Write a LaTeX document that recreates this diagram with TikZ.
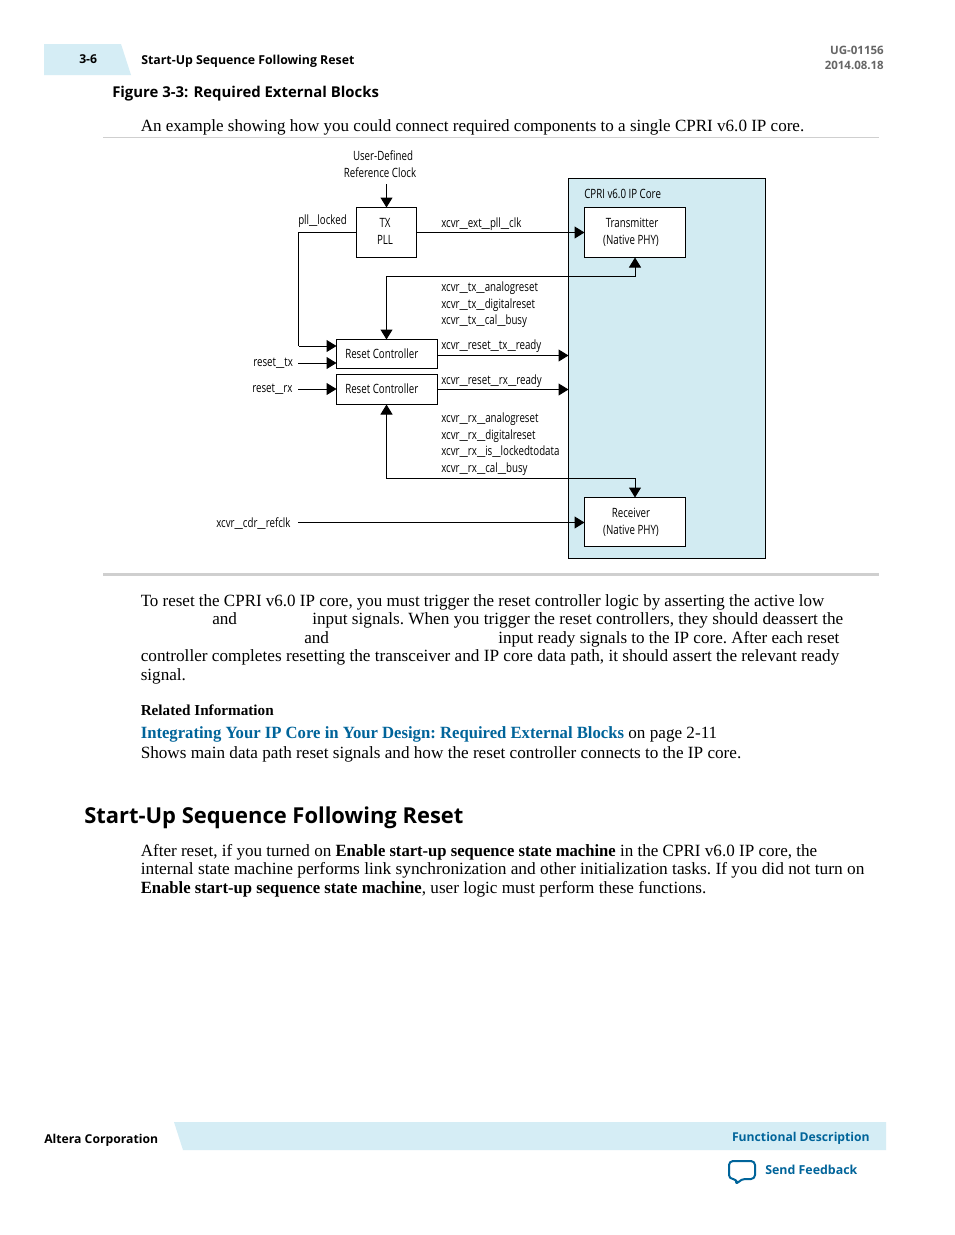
\documentclass[tikz,border=0pt]{standalone}
\usepackage{fontspec}
\usepackage{graphicx}
\usetikzlibrary{arrows.meta}
\setmainfont{Liberation Serif}
\newfontfamily\hd{Open Sans}
\newfontfamily\cond[FakeStretch=0.76]{Open Sans}
\definecolor{tabblue}{HTML}{D5EDF5}
\definecolor{coreblue}{HTML}{D2EBF2}
\definecolor{linkblue}{HTML}{00649A}
\definecolor{rulegray}{HTML}{CFCFCF}
\newcommand{\us}{\scalebox{1.9}[1]{\_}}
\newcommand{\bd}[1]{\scalebox{0.972}[1]{\textbf{#1}}}
\newcommand{\fitw}[2]{\resizebox{#1\dimexpr0.75pt\relax}{\height}{#2}}
\tikzset{
 x=0.75pt,y=-0.75pt,
 bodyt/.style={anchor=base west,inner sep=0,font=\fontsize{12.85}{14}\selectfont\frenchspacing},
 dt/.style={anchor=base west,inner sep=0,font=\cond\fontsize{9.6}{11}\selectfont},
 dc/.style={anchor=base,inner sep=0,font=\cond\fontsize{9.6}{11}\selectfont},
 hdt/.style={anchor=base west,inner sep=0,font=\hd\bfseries\fontsize{9.15}{11}\selectfont},
 blockbox/.style={draw=black,fill=white,line width=0.75pt,inner sep=0},
 wire/.style={draw=black,line width=0.75pt},
 arr/.style={wire,-{Triangle[length=7.5pt,width=9pt]}},
}
\begin{document}
\begin{tikzpicture}
\useasboundingbox (0,0) rectangle (954,1235);
\fill[white] (0,0) rectangle (954,1235);
% header
\fill[tabblue] (44,44) -- (121,44) -- (131,75) -- (44,75) -- cycle;
\node[hdt] (pg) at (79,63) {3-6};
\node[hdt,font=\hd\bfseries\fontsize{9.25}{11}\selectfont] (hdr) at (141,64) {Start-Up Sequence Following Reset};
\node[anchor=base east,inner sep=0,text=black!60,font=\hd\bfseries\fontsize{8.65}{10}\selectfont] (ug) at (884,54) {UG-01156};
\node[anchor=base east,inner sep=0,text=black!60,font=\hd\bfseries\fontsize{8.6}{10}\selectfont] (dt) at (884,69) {2014.08.18};
\node[hdt,font=\hd\bfseries\fontsize{11.18}{12}\selectfont] (fig) at (112,97) {Figure 3-3: Required External Blocks};
\node[bodyt] (ex) at (140.5,131) {\fitw{663.5}{An example showing how you could connect required components to a single CPRI v6.0 IP core.}};
\draw[rulegray,line width=0.75pt] (103,137.5) -- (879,137.5);
% diagram
\draw[black,fill=coreblue,line width=0.75pt] (568.5,178.5) rectangle (765.5,558.5);
\coordinate (clkin) at (386.5,184);
\coordinate (plltop) at (386.5,207.5);
\coordinate (lockA) at (298.5,232.5);
\coordinate (lockB) at (298.5,346);
\coordinate (rc1a) at (336.5,346);
\coordinate (rstxin) at (298,363);
\coordinate (rc1b) at (336.5,363);
\coordinate (rsrxin) at (298,389);
\coordinate (rc2a) at (336.5,389);
\coordinate (pllL) at (356.5,232.5);
\coordinate (pllR) at (416.5,232.5);
\coordinate (txL) at (584.5,232.5);
\coordinate (txB) at (635,257.5);
\coordinate (txC) at (635,276.5);
\coordinate (txD) at (386.5,276.5);
\coordinate (rc1T) at (386.5,339.5);
\coordinate (rdyA) at (437.5,355.5);
\coordinate (rdyAe) at (568.5,355.5);
\coordinate (rdyB) at (437.5,389.5);
\coordinate (rdyBe) at (568.5,389.5);
\coordinate (rc2B) at (386.5,404.5);
\coordinate (rxC) at (386.5,478.5);
\coordinate (rxD) at (635,478.5);
\coordinate (rxT) at (635,497.5);
\coordinate (cdrin) at (298,522.5);
\coordinate (rxL) at (584.5,522.5);
\node[blockbox,minimum width=75.75pt,minimum height=37.5pt] (trans) at (635,232.5) {};
\node[blockbox,minimum width=75.75pt,minimum height=37pt] (recv) at (635,522) {};
\node[blockbox,minimum width=45pt,minimum height=37.5pt] (pll) at (386.5,232.5) {};
\node[blockbox,minimum width=76pt,minimum height=22pt] (rc1) at (387,354) {};
\node[blockbox,minimum width=76pt,minimum height=22pt] (rc2) at (387,389.5) {};
\draw[arr] (clkin) -- (plltop);
\draw[wire] (pllL) -- (lockA) -- (lockB);
\draw[arr] (lockB) -- (rc1a);
\draw[arr] (rstxin) -- (rc1b);
\draw[arr] (rsrxin) -- (rc2a);
\draw[arr] (pllR) -- (txL);
\draw[arr] (txC) -- (txB);
\draw[arr] (txC) -- (txD) -- (rc1T);
\draw[arr] (rdyA) -- (rdyAe);
\draw[arr] (rdyB) -- (rdyBe);
\draw[arr] (rxC) -- (rc2B);
\draw[arr] (rxC) -- (rxD) -- (rxT);
\draw[arr] (cdrin) -- (rxL);
\node[dc] (l1) at (383,160) {User-Defined};
\node[dc] (l2) at (380,177) {Reference Clock};
\node[dt] (l3) at (298,224) {pll\us locked};
\node[dc] (l4) at (385,227) {TX};
\node[dc] (l5) at (385,244) {PLL};
\node[dt] (l6) at (441,227) {xcvr\us ext\us pll\us clk};
\node[dt] (l7) at (584,198) {CPRI v6.0 IP Core};
\node[dc] (l8) at (632,227) {Transmitter};
\node[dc] (l9) at (631,244) {(Native PHY)};
\node[dt] (l10) at (441,291) {xcvr\us tx\us analogreset};
\node[dt] (l11) at (441,308) {xcvr\us tx\us digitalreset};
\node[dt] (l12) at (441,324) {xcvr\us tx\us cal\us busy};
\node[dt] (l13) at (441,349) {xcvr\us reset\us tx\us ready};
\node[dt] (l14) at (441,384) {xcvr\us reset\us rx\us ready};
\node[dt] (l15) at (345,358) {Reset Controller};
\node[dt] (l16) at (345,393) {Reset Controller};
\node[dt] (l17) at (253,366) {reset\us tx};
\node[dt] (l18) at (252,392) {reset\us rx};
\node[dt] (l19) at (441,422) {xcvr\us rx\us analogreset};
\node[dt] (l20) at (441,439) {xcvr\us rx\us digitalreset};
\node[dt] (l21) at (441,455) {xcvr\us rx\us is\us lockedtodata};
\node[dt] (l22) at (441,472) {xcvr\us rx\us cal\us busy};
\node[dt] (l23) at (216,527) {xcvr\us cdr\us refclk};
\node[dc] (l24) at (631,517) {Receiver};
\node[dc] (l25) at (631,534) {(Native PHY)};
\fill[rulegray] (103,573) rectangle (879,576);
% body
\node[bodyt] (b1) at (140.5,606) {\fitw{683.5}{To reset the CPRI v6.0 IP core, you must trigger the reset controller logic by asserting the active low}};
\node[bodyt] (b2a) at (212,624) {and};
\node[bodyt] (b2b) at (312,624) {\fitw{531}{input signals. When you trigger the reset controllers, they should deassert the}};
\node[bodyt] (b3a) at (304,643) {and};
\node[bodyt] (b3b) at (498,643) {\fitw{341}{input ready signals to the IP core. After each reset}};
\node[bodyt] (b4) at (140.5,661.5) {\fitw{698.5}{controller completes resetting the transceiver and IP core data path, it should assert the relevant ready}};
\node[bodyt] (b5) at (140.5,680.5) {signal.};
\node[bodyt,font=\fontsize{11.4}{14}\selectfont] (ri) at (140.5,715) {\textbf{Related Information}};
\node[bodyt] (lnk) at (140.5,738) {\fitw{576.5}{\textcolor{linkblue}{\bd{Integrating Your IP Core in Your Design: Required External Blocks}} on page 2-11}};
\node[bodyt] (sh) at (140.5,758) {\fitw{600.5}{Shows main data path reset signals and how the reset controller connects to the IP core.}};
\node[hdt,font=\hd\bfseries\fontsize{16.45}{20}\selectfont] (h2) at (84,823.5) {Start-Up Sequence Following Reset};
\node[bodyt] (c1) at (140.5,856) {\fitw{676.5}{After reset, if you turned on \bd{Enable start-up sequence state machine} in the CPRI v6.0 IP core, the}};
\node[bodyt] (c2) at (140.5,874) {\fitw{723.5}{internal state machine performs link synchronization and other initialization tasks. If you did not turn on}};
\node[bodyt] (c3) at (140.5,893) {\fitw{565.5}{\bd{Enable start-up sequence state machine}, user logic must perform these functions.}};
% footer
\fill[tabblue] (174,1122) -- (886,1122) -- (886,1150) -- (183,1150) -- cycle;
\node[hdt] (alt) at (44,1143) {Altera Corporation};
\node[anchor=base east,inner sep=0,text=linkblue,font=\hd\bfseries\fontsize{9.13}{11}\selectfont] (fd) at (870,1141) {Functional Description};
\node[anchor=base west,inner sep=0,text=linkblue,font=\hd\bfseries\fontsize{9.3}{11}\selectfont] (sf) at (765,1174) {Send Feedback};
\draw[linkblue,line width=1.5pt,line join=round,rounded corners=3pt,fill=white] (729,1161) -- (755,1161) -- (755,1179) -- (741,1179) -- (736,1185) -- (737,1179) -- (729,1179) -- cycle;
\end{tikzpicture}
\end{document}
